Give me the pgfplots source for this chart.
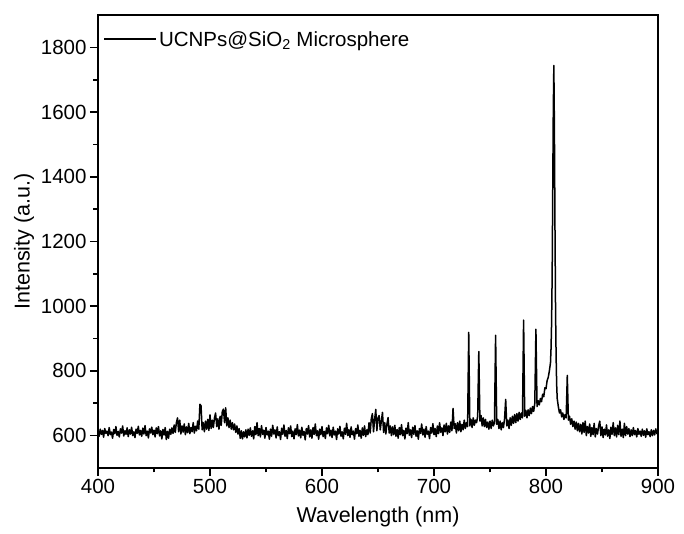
\documentclass[border=0pt]{standalone}
\usepackage{fontspec}
\setmainfont{Liberation Sans}
\usepackage{pgfplots}
\pgfplotsset{compat=1.18}
\begin{document}
\begin{tikzpicture}
\begin{axis}[
 scale only axis, width=560pt, height=453pt,
 xmin=400, xmax=900, ymin=500, ymax=1900,
 xtick={400,500,...,900}, ytick={600,800,...,1800},
 minor x tick num=1, minor y tick num=1,
 xtick pos=bottom, ytick pos=left, tick align=outside,
 major tick length=8pt, minor tick length=4.5pt,
 axis line style={line width=1.8pt},
 every tick/.style={line width=1.6pt, black},
 tick label style={font=\fontsize{20.5}{24}\selectfont},
 label style={font=\fontsize{21.5}{26}\selectfont},
 xlabel style={yshift=-6pt},
 /pgf/number format/assume math mode=true,
 /pgf/number format/1000 sep={},
 xlabel={Wavelength (nm)}, ylabel={Intensity (a.u.)},
 legend style={at={(0,1)}, anchor=north west, draw=none, fill=none,
   font=\fontsize{20.5}{24}\selectfont, xshift=2pt, yshift=-12pt},
 legend cell align=left,
 legend image code/.code={\draw[#1, line width=1.8pt] (0pt,0pt) -- (52pt,0pt);},
]
\addplot[black, line width=1.5pt, line join=round] table[row sep=\\] {
x y\\
400 612\\ 401 598\\ 402 620\\ 403 604\\ 404 616\\ 405 595\\ 406 622\\ 407 607\\ 408 614\\ 409 600\\
410 625\\ 411 603\\ 412 611\\ 413 592\\ 414 619\\ 415 606\\ 416 628\\ 417 601\\ 418 613\\ 419 596\\
420 621\\ 421 608\\ 422 630\\ 423 599\\ 424 615\\ 425 604\\ 426 624\\ 427 597\\ 428 618\\ 429 605\\
430 626\\ 431 600\\ 432 612\\ 433 594\\ 434 620\\ 435 607\\ 436 629\\ 437 602\\ 438 616\\ 439 598\\
440 623\\ 441 605\\ 442 631\\ 443 600\\ 444 614\\ 445 593\\ 446 621\\ 447 608\\ 448 626\\ 449 603\\
450 617\\ 451 596\\ 452 624\\ 453 606\\ 454 628\\ 455 599\\ 456 615\\ 457 590\\ 458 619\\ 459 602\\
460 625\\ 461 588\\ 462 613\\ 463 592\\ 464 620\\ 465 604\\ 466 624\\ 467 607\\ 468 633\\ 469 610\\
470 640\\ 471 655\\ 472 612\\ 473 648\\ 474 605\\ 475 630\\ 476 611\\ 477 636\\ 478 603\\ 479 627\\
480 609\\ 481 638\\ 482 606\\ 483 625\\ 484 612\\ 485 640\\ 486 608\\ 487 629\\ 488 615\\ 489 645\\
490 620\\ 491 697\\ 492 692\\ 493 618\\ 494 640\\ 495 612\\ 496 645\\ 497 620\\ 498 650\\ 499 616\\
500 664\\ 501 622\\ 502 648\\ 503 625\\ 504 655\\ 505 670\\ 506 628\\ 507 652\\ 508 620\\ 509 660\\
510 632\\ 511 675\\ 512 682\\ 513 640\\ 514 686\\ 515 630\\ 516 655\\ 517 625\\ 518 648\\ 519 620\\
520 640\\ 521 618\\ 522 636\\ 523 610\\ 524 630\\ 525 605\\ 526 622\\ 527 592\\ 528 615\\ 529 590\\
530 612\\ 531 596\\ 532 618\\ 533 593\\ 534 620\\ 535 601\\ 536 624\\ 537 598\\ 538 615\\ 539 590\\
540 628\\ 541 603\\ 542 640\\ 543 600\\ 544 622\\ 545 596\\ 546 631\\ 547 604\\ 548 617\\ 549 592\\
550 625\\ 551 602\\ 552 614\\ 553 589\\ 554 620\\ 555 598\\ 556 632\\ 557 605\\ 558 618\\ 559 593\\
560 627\\ 561 600\\ 562 612\\ 563 588\\ 564 623\\ 565 604\\ 566 633\\ 567 598\\ 568 616\\ 569 591\\
570 624\\ 571 606\\ 572 630\\ 573 597\\ 574 614\\ 575 590\\ 576 621\\ 577 603\\ 578 634\\ 579 599\\
580 617\\ 581 593\\ 582 626\\ 583 601\\ 584 613\\ 585 587\\ 586 622\\ 587 605\\ 588 631\\ 589 596\\
590 618\\ 591 592\\ 592 625\\ 593 604\\ 594 636\\ 595 600\\ 596 615\\ 597 589\\ 598 620\\ 599 603\\
600 628\\ 601 597\\ 602 613\\ 603 591\\ 604 624\\ 605 606\\ 606 632\\ 607 599\\ 608 617\\ 609 594\\
610 626\\ 611 602\\ 612 614\\ 613 588\\ 614 621\\ 615 605\\ 616 629\\ 617 598\\ 618 612\\ 619 590\\
620 623\\ 621 604\\ 622 638\\ 623 600\\ 624 619\\ 625 595\\ 626 627\\ 627 603\\ 628 614\\ 629 589\\
630 622\\ 631 606\\ 632 633\\ 633 598\\ 634 616\\ 635 592\\ 636 624\\ 637 601\\ 638 630\\ 639 597\\
640 618\\ 641 603\\ 642 640\\ 643 608\\ 644 652\\ 645 668\\ 646 612\\ 647 650\\ 648 681\\ 649 615\\
650 655\\ 651 662\\ 652 618\\ 653 645\\ 654 672\\ 655 610\\ 656 640\\ 657 605\\ 658 636\\ 659 656\\
660 608\\ 661 630\\ 662 600\\ 663 627\\ 664 603\\ 665 632\\ 666 598\\ 667 619\\ 668 592\\ 669 625\\
670 603\\ 671 634\\ 672 600\\ 673 616\\ 674 590\\ 675 623\\ 676 606\\ 677 640\\ 678 601\\ 679 618\\
680 594\\ 681 626\\ 682 604\\ 683 631\\ 684 598\\ 685 615\\ 686 589\\ 687 622\\ 688 607\\ 689 636\\
690 602\\ 691 620\\ 692 595\\ 693 628\\ 694 604\\ 695 614\\ 696 591\\ 697 625\\ 698 608\\ 699 637\\
700 603\\ 701 622\\ 702 597\\ 703 630\\ 704 606\\ 705 640\\ 706 610\\ 707 624\\ 708 600\\ 709 633\\
710 612\\ 711 638\\ 712 605\\ 713 630\\ 714 610\\ 715 642\\ 716 615\\ 717 684\\ 718 622\\ 719 637\\
720 608\\ 721 640\\ 722 615\\ 723 645\\ 724 612\\ 725 635\\ 726 618\\ 727 648\\ 728 622\\ 729 640\\
730 628\\ 731 919\\ 732 630\\ 733 650\\ 734 625\\ 735 655\\ 736 632\\ 737 648\\ 738 640\\ 739 660\\
740 860\\ 741 645\\ 742 662\\ 743 630\\ 744 655\\ 745 628\\ 746 650\\ 747 625\\ 748 642\\ 749 620\\
750 645\\ 751 622\\ 752 648\\ 753 630\\ 754 640\\ 755 910\\ 756 635\\ 757 650\\ 758 622\\ 759 645\\
760 618\\ 761 640\\ 762 625\\ 763 652\\ 764 712\\ 765 630\\ 766 648\\ 767 622\\ 768 655\\ 769 632\\
770 660\\ 771 638\\ 772 665\\ 773 640\\ 774 668\\ 775 645\\ 776 672\\ 777 650\\ 778 670\\ 779 655\\
780 957\\ 781 660\\ 782 678\\ 783 655\\ 784 680\\ 785 662\\ 786 685\\ 787 668\\ 788 690\\ 789 675\\
790 700\\ 791 929\\ 792 690\\ 793 708\\ 794 695\\ 795 715\\ 796 705\\ 797 728\\ 798 720\\ 799 748\\
800 745\\ 801 770\\ 802 780\\ 803 800\\ 804 825\\ 804.5 870\\ 805 950\\ 805.5 1100\\ 806 1350\\ 806.5 1600\\
807 1744\\ 807.5 1550\\ 808 1250\\ 808.5 1000\\ 809 850\\ 809.5 760\\ 810 715\\ 811 690\\ 812 670\\ 813 680\\
814 658\\ 815 670\\ 816 650\\ 817 665\\ 818 655\\ 819 786\\ 820 648\\ 821 660\\ 822 635\\ 823 652\\
824 628\\ 825 645\\ 826 620\\ 827 642\\ 828 615\\ 829 638\\ 830 612\\ 831 635\\ 832 605\\ 833 640\\
834 610\\ 835 645\\ 836 600\\ 837 628\\ 838 608\\ 839 636\\ 840 598\\ 841 625\\ 842 603\\ 843 638\\
844 596\\ 845 622\\ 846 605\\ 847 630\\ 848 645\\ 849 600\\ 850 627\\ 851 594\\ 852 620\\ 853 602\\
854 633\\ 855 598\\ 856 618\\ 857 591\\ 858 626\\ 859 604\\ 860 640\\ 861 600\\ 862 624\\ 863 596\\
864 632\\ 865 603\\ 866 645\\ 867 598\\ 868 620\\ 869 594\\ 870 638\\ 871 600\\ 872 628\\ 873 605\\
874 622\\ 875 597\\ 876 618\\ 877 600\\ 878 625\\ 879 603\\ 880 616\\ 881 596\\ 882 622\\ 883 604\\
884 614\\ 885 598\\ 886 620\\ 887 601\\ 888 615\\ 889 595\\ 890 621\\ 891 603\\ 892 612\\ 893 597\\
894 618\\ 895 600\\ 896 616\\ 897 602\\ 898 621\\ 899 606\\ 900 612\\
};
\addlegendentry{UCNPs@SiO\textsubscript{2} Microsphere}
\end{axis}
\path (current axis.south west) +(-98pt,-66pt) (current axis.north east) +(26pt,15pt);
\end{tikzpicture}
\end{document}
